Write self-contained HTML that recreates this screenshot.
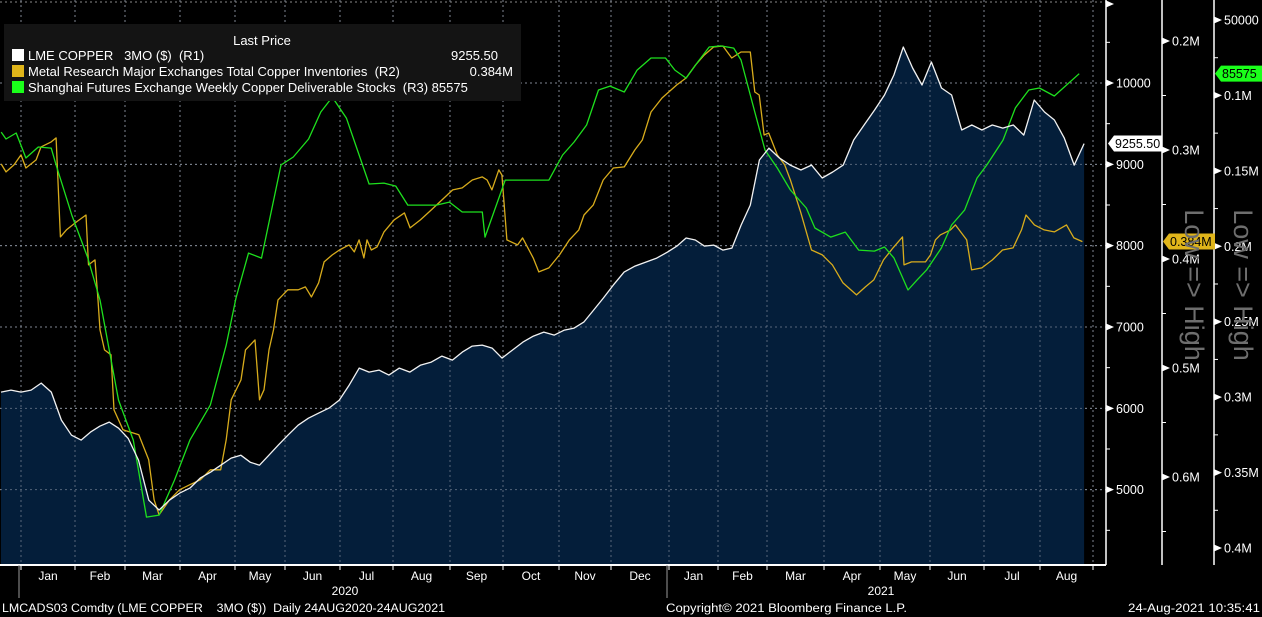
<!DOCTYPE html>
<html><head><meta charset="utf-8">
<style>
html,body{margin:0;padding:0;background:#000;}
svg{display:block;font-family:"Liberation Sans",sans-serif;}
</style></head>
<body>
<svg id="chart" width="1262" height="617" viewBox="0 0 1262 617" xmlns="http://www.w3.org/2000/svg">
<rect x="0" y="0" width="1262" height="617" fill="#000"/>
<g id="grid"></g>
<g id="series"></g>
<g id="axes"></g>
<g>
  <rect x="4" y="24" width="517" height="77" fill="#141414"/>
  <text x="262" y="45" fill="#fff" font-size="13" text-anchor="middle">Last Price</text>
  <g>
    <rect x="12" y="49" width="12" height="12" fill="#fff"/>
    <text x="28" y="60" fill="#fff" font-size="13" xml:space="preserve">LME COPPER   3MO ($)  (R1)</text>
    <text x="498" y="60" fill="#fff" font-size="13" text-anchor="end">9255.50</text>
  </g>
  <g>
    <rect x="12" y="65" width="12" height="12" fill="#e0b51a"/>
    <text x="28" y="76" fill="#fff" font-size="13" xml:space="preserve">Metal Research Major Exchanges Total Copper Inventories  (R2)</text>
    <text x="513" y="76" fill="#fff" font-size="13" text-anchor="end">0.384M</text>
  </g>
  <g>
    <rect x="12" y="81" width="12" height="12" fill="#1aff1a"/>
    <text x="28" y="92" fill="#fff" font-size="13" xml:space="preserve">Shanghai Futures Exchange Weekly Copper Deliverable Stocks  (R3) 85575</text>
  </g>
</g>
<text x="2" y="612" fill="#fff" font-size="11.5" textLength="443" lengthAdjust="spacingAndGlyphs" xml:space="preserve">LMCADS03 Comdty (LME COPPER    3MO ($))  Daily 24AUG2020-24AUG2021</text>
<text x="666" y="612" fill="#fff" font-size="11.5" textLength="241" lengthAdjust="spacingAndGlyphs">Copyright© 2021 Bloomberg Finance L.P.</text>
<text x="1128" y="612" fill="#fff" font-size="11.5" textLength="132" lengthAdjust="spacingAndGlyphs">24-Aug-2021 10:35:41</text>
<text transform="translate(1185,285) rotate(90)" fill="#6e6e6e" font-size="27" text-anchor="middle">Low =&gt; High</text>
<text transform="translate(1234,285) rotate(90)" fill="#6e6e6e" font-size="27" text-anchor="middle">Low =&gt; High</text>
</svg>
<script>
// ---- data ----
var monthLabels = ["Jan","Feb","Mar","Apr","May","Jun","Jul","Aug","Sep","Oct","Nov","Dec","Jan","Feb","Mar","Apr","May","Jun","Jul","Aug"];
var yearLabels = ["2020","2021"];
var r1Ticks = [5000,6000,7000,8000,9000,10000];
var r2Ticks = [200000,300000,400000,500000,600000];
var r2TickLabels = ["0.2M","0.3M","0.4M","0.5M","0.6M"];
var r3Ticks = [50000,100000,150000,200000,250000,300000,350000,400000];
var r3TickLabels = ["50000","0.1M","0.15M","0.2M","0.25M","0.3M","0.35M","0.4M"];
// LME copper, sampled at uniform steps starting t=-0.374 months (step 0.1871 months)
var lmeStart = -0.374, lmeStep = 0.1871;
var lmeValues = [6200,6224,6200,6224,6310,6200,5855,5670,5609,5707,5780,5830,5756,5630,5363,4870,4750,4870,4957,5019,5142,5215,5301,5388,5424,5338,5301,5424,5547,5670,5793,5879,5941,6003,6101,6286,6494,6445,6470,6408,6494,6445,6531,6568,6642,6593,6691,6765,6777,6740,6617,6716,6814,6888,6937,6900,6962,6986,7060,7208,7355,7515,7675,7749,7798,7847,7921,7995,8094,8069,7995,8007,7946,7970,8253,8499,9053,9200,9077,8991,8930,8991,8832,8906,8991,9299,9483,9668,9852,10098,10443,10185,9975,10258,9939,9852,9422,9483,9422,9483,9446,9483,9360,9791,9643,9545,9323,8991,9255.5];
// Inventories (thousand tonnes) — months since Jan 2020
var invT = [-0.37,-0.28,-0.13,0,0.09,0.28,0.37,0.56,0.65,0.73,0.84,1.03,1.22,1.27,1.40,1.46,1.50,1.59,1.72,1.78,1.96,2.25,2.43,2.53,2.62,2.81,2.99,3.18,3.37,3.55,3.74,3.84,3.93,4.12,4.21,4.40,4.49,4.58,4.68,4.77,4.86,5.05,5.24,5.37,5.48,5.61,5.71,5.86,5.99,6.17,6.27,6.36,6.45,6.51,6.59,6.70,6.83,7.02,7.20,7.30,7.48,7.67,7.86,8.05,8.23,8.42,8.61,8.70,8.79,8.92,8.98,9.07,9.26,9.35,9.54,9.64,9.82,10.01,10.20,10.38,10.48,10.66,10.85,11.04,11.23,11.41,11.54,11.69,11.88,12.16,12.35,12.54,12.72,12.91,13.10,13.28,13.47,13.66,13.75,13.84,13.94,14.03,14.18,14.31,14.41,14.59,14.78,14.97,15.15,15.34,15.58,15.74,15.89,16.07,16.26,16.45,16.48,16.63,16.91,17.01,17.10,17.19,17.38,17.47,17.68,17.77,17.96,18.15,18.33,18.52,18.67,18.75,18.90,19.08,19.27,19.50,19.64,19.80];
var invValues = [312.8,320.1,313.7,304.5,316.5,309.1,297.2,292.6,288.9,379.7,373.3,366.0,359.6,405.4,400.8,437.5,465.0,483.4,487.9,538.4,556.7,561.3,584.2,620.9,634.7,620.9,611.7,607.1,602.6,593.4,593.4,565.9,529.2,510.9,483.4,474.2,529.2,520.0,483.4,465.0,437.5,428.3,428.3,425.6,434.8,421.9,402.7,396.2,391.7,387.1,393.5,382.5,399.0,382.5,391.7,388.9,375.1,364.1,357.7,371.5,364.1,355.0,345.8,336.6,334.8,327.5,324.7,327.5,336.6,318.3,322.9,382.5,387.1,380.6,399.0,411.8,408.2,396.2,382.5,373.3,359.6,350.4,327.5,316.5,315.5,300.0,290.8,265.1,252.3,240.3,233.9,222.0,212.8,205.5,204.6,215.6,210.1,210.1,246.8,249.5,286.2,284.4,304.5,313.7,327.5,356.8,391.7,396.2,405.4,421.9,432.9,425.6,419.2,400.8,389.8,379.7,405.4,402.7,402.7,396.2,382.5,377.9,373.3,368.7,382.5,410.0,408.2,400.8,391.7,389.8,373.3,359.6,368.7,373.3,375.1,368.7,380.6,384.0];
// SHFE deliverable stocks (thousand tonnes)
var shfeT = [-0.37,-0.28,-0.09,0.09,0.32,0.56,0.65,0.94,1.25,1.50,1.87,2.15,2.39,2.62,2.90,3.18,3.55,3.84,4.02,4.27,4.53,4.92,5.15,5.43,5.65,5.86,6.12,6.55,6.83,7.05,7.26,7.76,7.99,8.23,8.61,8.66,9.04,9.35,9.82,10.07,10.29,10.53,10.76,10.98,11.23,11.45,11.69,11.94,12.12,12.35,12.59,12.82,13.06,13.32,13.47,13.75,13.96,14.18,14.41,14.69,14.84,15.12,15.38,15.62,15.90,16.09,16.28,16.56,16.74,16.93,17.21,17.40,17.64,17.87,18.05,18.34,18.56,18.80,18.99,19.27,19.74];
var shfeValues = [124.3,128.9,124.9,141.5,134.2,134.9,146.1,179.3,207.1,235.6,301.9,328.5,379.5,378.2,355.0,328.5,305.3,265.5,234.3,204.5,207.8,146.1,140.8,128.9,111.0,101.1,115.0,158.7,158.1,160.1,172.7,172.7,170.7,177.3,177.3,193.9,156.1,156.1,156.1,139.5,130.9,119.6,96.4,93.8,97.7,83.2,75.2,75.2,83.2,88.5,77.8,67.9,67.2,68.6,76.5,111.0,136.2,148.1,162.7,174.6,187.9,193.9,190.6,202.5,203.2,200.5,207.8,229.0,222.4,215.8,201.2,185.9,176.0,154.8,146.1,129.6,108.3,96.4,95.1,100.4,85.575];

// ---- layout ----
var NS = "http://www.w3.org/2000/svg";
var monthEdges = [21,75,125,180,235,285,340,393,450,503,559,611,669,718,767,824,880,930,984,1040,1093];
var plotRight = 1106, plotBottom = 565;
function xOf(t){
  if (t < 0) return monthEdges[0] + t*53.5;
  var m = Math.floor(t);
  if (m >= monthEdges.length-1) return monthEdges[monthEdges.length-1] + (t-(monthEdges.length-1))*53;
  return monthEdges[m] + (t-m)*(monthEdges[m+1]-monthEdges[m]);
}
function yR1(v){ return 83 + (10000 - v) * 0.08133; }
function yR2(v){ return 41 + (v - 200000) * 0.00109; }
function yR3(v){ return 20 + (v - 50000) * (528/350000); }
function mk(tag, attrs, parent){
  var e = document.createElementNS(NS, tag);
  for (var k in attrs) e.setAttribute(k, attrs[k]);
  parent.appendChild(e); return e;
}
var grid = document.getElementById('grid');
var series = document.getElementById('series');
var axes = document.getElementById('axes');

// grid
r1Ticks.concat([10950]).forEach(function(v){
  var y = v === 10950 ? 2 : yR1(v);
  var l = mk('line',{x1:0,x2:plotRight,y1:y,y2:y,stroke:'#8a8a8a','stroke-width':1,'stroke-dasharray':'2,3'},grid);
  
  
});
monthEdges.forEach(function(x){
  var l = mk('line',{x1:x,x2:x,y1:0,y2:plotBottom,stroke:'#8a8a8a','stroke-width':1,'stroke-dasharray':'2,3'},grid);
  
  
});

// LME area + line
var pts = lmeValues.map(function(v,i){ return [xOf(lmeStart + i*lmeStep), yR1(v)]; });
var d = 'M' + pts[0][0] + ',' + plotBottom + pts.map(function(p){return 'L'+p[0].toFixed(1)+','+p[1].toFixed(1);}).join('') + 'L' + pts[pts.length-1][0].toFixed(1) + ',' + plotBottom + 'Z';
var area = mk('path',{d:d,fill:'#041e3a'},series);


monthEdges.forEach(function(x){
  var l = mk('line',{x1:x,x2:x,y1:0,y2:plotBottom,stroke:'#7a8596','stroke-width':1,'stroke-dasharray':'2,3','stroke-opacity':0.7},series);
  
  
});
r1Ticks.forEach(function(v){
  var y = yR1(v);
  var l = mk('line',{x1:0,x2:plotRight,y1:y,y2:y,stroke:'#7a8596','stroke-width':1,'stroke-dasharray':'2,3','stroke-opacity':0.7},series);
  
  
});

function line(tArr, vArr, yf, color, name){
  var s = tArr.map(function(t,i){ return (i?'L':'M') + xOf(t).toFixed(1) + ',' + yf(vArr[i]).toFixed(1); }).join('');
  var p = mk('path',{d:s,fill:'none',stroke:color,'stroke-width':1.3,'stroke-linejoin':'round'},series);
  
  
}
line(invT, invValues, function(v){return yR2(v*1000);}, '#d8ac1c', 'inventories-line');
line(shfeT, shfeValues, function(v){return yR3(v*1000);}, '#1ee01e', 'shfe-stocks-line');
var lmeLine = mk('path',{d:pts.map(function(p,i){return (i?'L':'M')+p[0].toFixed(1)+','+p[1].toFixed(1);}).join(''),fill:'none',stroke:'#f2f2f2','stroke-width':1.3,'stroke-linejoin':'round'},series);



// x-axis
var xa = mk('line',{x1:0,x2:plotRight,y1:plotBottom,y2:plotBottom,stroke:'#fff','stroke-width':2},axes);


monthEdges.forEach(function(x){
  var l = mk('line',{x1:x,x2:x,y1:plotBottom,y2:plotBottom+5,stroke:'#fff','stroke-width':1},axes);
  
  
});
monthLabels.forEach(function(lbl,i){
  var t = mk('text',{x:((monthEdges[i]+monthEdges[i+1])/2).toFixed(1),y:580,fill:'#fff','font-size':12,'text-anchor':'middle'},axes);
  t.textContent = lbl;
  
  
});
[[0,12,0],[12,20,1]].forEach(function(r){
  var x = monthEdges[r[0]] - 2;
  var l = mk('line',{x1:x,x2:x,y1:plotBottom,y2:598,stroke:'#9a9a9a','stroke-width':1},axes);
  
  
  var t = mk('text',{x:((monthEdges[r[0]]+monthEdges[r[1]])/2).toFixed(1),y:595,fill:'#fff','font-size':12,'text-anchor':'middle'},axes);
  t.textContent = yearLabels[r[2]];
  
  
});

// right axes
function vaxis(x, ticks, labels, yf, minor, name){
  var l = mk('line',{x1:x,x2:x,y1:0,y2:plotBottom,stroke:'#fff','stroke-width':1.5},axes);
  
  
  ticks.forEach(function(v,i){
    var y = yf(v);
    var tri = mk('path',{d:'M'+x+','+(y-3.5)+'L'+(x+8)+','+y+'L'+x+','+(y+3.5)+'Z',fill:'#fff'},axes);
    
    
    var t = mk('text',{x:x+10,y:y+4.5,fill:'#fff','font-size':12.5},axes);
    t.textContent = labels[i];
    
    
  });
  minor.forEach(function(v){
    var y = yf(v);
    if (y < 0 || y > plotBottom) return;
    var m = mk('line',{x1:x,x2:x+4,y1:y,y2:y,stroke:'#fff','stroke-width':1},axes);
    
    
  });
}
vaxis(1106, r1Ticks, r1Ticks.map(String), yR1, [4500,5500,6500,7500,8500,9500,10500], 'r1-axis');
vaxis(1162, r2Ticks, r2TickLabels, yR2, [150000,250000,350000,450000,550000,650000], 'r2-axis');
vaxis(1214, r3Ticks, r3TickLabels, yR3, [75000,125000,175000,225000,275000,325000,375000], 'r3-axis');
var ta = mk('path',{d:'M1106,0.5L1114,4L1106,7.5Z',fill:'#fff'},axes);



// last-value tags
function tag(x, y, w, bg, fg, txt, name){
  var g = mk('g',{},axes);
  
  
  mk('path',{d:'M'+x+','+y+'L'+(x+6)+','+(y-8)+'L'+(x+w)+','+(y-8)+'L'+(x+w)+','+(y+8)+'L'+(x+6)+','+(y+8)+'Z',fill:bg},g);
  var t = mk('text',{x:x+7,y:y+4.5,fill:fg,'font-size':12.5},g);
  t.textContent = txt;
}
tag(1108, yR1(lmeValues[lmeValues.length-1]), 54, '#fff', '#000', '9255.50', 'r1-last-value-tag');
tag(1163, yR2(invValues[invValues.length-1]*1000), 52, '#e0b51a', '#000', '0.384M', 'r2-last-value-tag');
tag(1215, yR3(shfeValues[shfeValues.length-1]*1000), 47, '#1aff1a', '#000', '85575', 'r3-last-value-tag');
</script>
</body></html>
